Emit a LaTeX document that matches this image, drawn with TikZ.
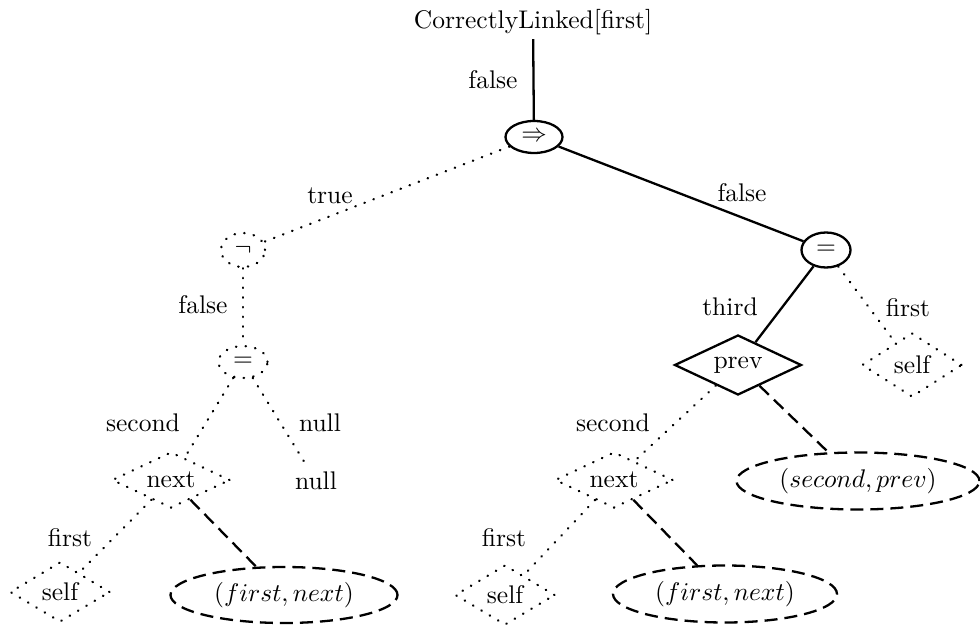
\documentclass[tikz,border=0pt]{standalone}
\usetikzlibrary{shapes.geometric}
\newcommand\pxl{0.392pt}
\begin{document}
\begin{tikzpicture}[x=0.392pt, y=-0.392pt,
  op/.style={ellipse, draw, line width=0.9pt, inner sep=0pt},
  field/.style={diamond, draw, line width=0.9pt, inner sep=0pt, aspect=2},
  pair/.style={ellipse, draw, line width=0.9pt, inner sep=0pt, dashline},
  dotline/.style={line width=0.9pt, dash pattern=on 0.2pt off 3.6pt, line cap=round},
  dashline/.style={line width=0.9pt, dash pattern=on 5.1pt off 2.75pt},
  solidline/.style={line width=0.9pt},
  lbl/.style={inner sep=0pt}
]
\useasboundingbox (0,0) rectangle (980,625);

% nodes of the tree
\node[inner sep=1.5pt] (root) at (533,22) {CorrectlyLinked[first]};
\node[op, minimum width=57*\pxl, minimum height=32*\pxl] (impl) at (534,137) {$\Rightarrow$};
\node[op, dotline, minimum width=44*\pxl, minimum height=34*\pxl] (neg) at (243,250) {$\neg$};
\node[op, minimum width=49*\pxl, minimum height=35*\pxl] (eqR) at (826,250) {$=$};
\node[op, dotline, minimum width=49*\pxl, minimum height=32*\pxl] (eqL) at (243,362) {$=$};
\node[field, dotline, minimum width=118*\pxl, minimum height=56*\pxl] (nextL) at (171,480) {next};
\node (nullv) at (316,481) {null};
\node[field, dotline, minimum width=100*\pxl, minimum height=60*\pxl] (selfL) at (60,592) {self};
\node[pair, minimum width=227*\pxl, minimum height=56*\pxl] (fnL) at (284,595) {$(first, next)$};
\node[field, minimum width=127*\pxl, minimum height=60*\pxl] (prev) at (738,365) {prev};
\node[field, dotline, minimum width=100*\pxl, minimum height=64*\pxl] (selfR) at (912,365) {self};
\node[field, dotline, minimum width=118*\pxl, minimum height=56*\pxl] (nextR) at (614,480) {next};
\node[pair, minimum width=243*\pxl, minimum height=57*\pxl] (sp) at (858,481) {$(second, prev)$};
\node[field, dotline, minimum width=100*\pxl, minimum height=60*\pxl] (selfM) at (505,595) {self};
\node[pair, minimum width=224*\pxl, minimum height=57*\pxl] (fnR) at (725,594) {$(first, next)$};

% connectors with their labels
\draw[solidline] (root) -- (impl) node[lbl, at={(493,80)}] {false};
\draw[dotline] (impl) -- (neg) node[lbl, at={(330,196)}] {true};
\draw[solidline] (impl) -- (eqR) node[lbl, at={(742,193)}] {false};
\draw[dotline] (neg) -- (eqL) node[lbl, at={(203,305)}] {false};
\draw[dotline] (eqL) -- (nextL) node[lbl, at={(143,423)}] {second};
\draw[dotline] (eqL) -- (nullv) node[lbl, at={(320,423)}] {null};
\draw[dotline] (nextL) -- (selfL) node[lbl, at={(70,538)}] {first};
\draw[dashline] (nextL) -- (fnL);
\draw[solidline] (eqR) -- (prev) node[lbl, at={(730,307)}] {third};
\draw[dotline] (eqR) -- (selfR) node[lbl, at={(908,308)}] {first};
\draw[dotline] (prev) -- (nextR) node[lbl, at={(613,423)}] {second};
\draw[dashline] (prev) -- (sp);
\draw[dotline] (nextR) -- (selfM) node[lbl, at={(504,538)}] {first};
\draw[dashline] (nextR) -- (fnR);
\end{tikzpicture}
\end{document}
